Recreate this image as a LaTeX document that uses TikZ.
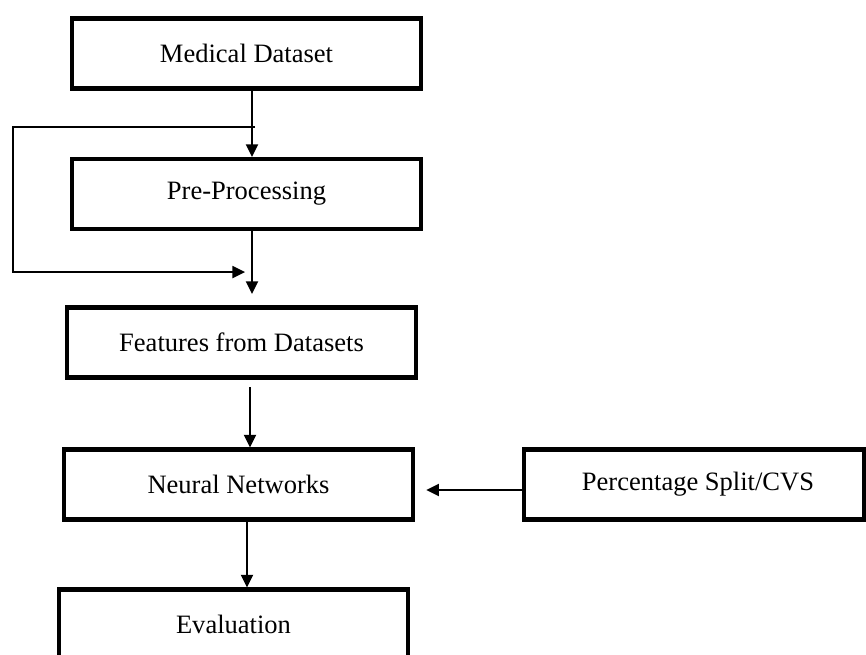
\documentclass[tikz,border=0pt]{standalone}
\usepackage{fontspec}
\setmainfont{Liberation Serif}
\usetikzlibrary{arrows.meta,calc}
\tikzset{
 stage/.style={draw,line width=3.1pt,minimum width=262pt,minimum height=52.5pt,inner sep=0,font=\fontsize{19.9}{24}\selectfont},
 sidestage/.style={stage,minimum width=255pt},
 flow/.style={line width=1.6pt,-{Triangle[length=9.5pt,width=9pt]}},
 loopline/.style={line width=1.6pt}
}
\begin{document}
\begin{tikzpicture}[x=0.75pt,y=-0.75pt]
\useasboundingbox (0,0) rectangle (866,655);
\clip (0,0) rectangle (866,655);
\node[stage] (med) at (246.5,53.5) {Medical Dataset};
\node[stage] (pre) at (246.5,194) {Pre-Processing};
\node[stage] (feat) at (241.5,342.5) {Features from Datasets};
\node[stage] (nn) at (238.5,484.5) {Neural Networks};
\node[sidestage] (pct) at (694,484.5) {\hspace*{6pt}Percentage Split/CVS};
\node[stage] (eval) at (233.5,624.5) {Evaluation};
\coordinate (split) at ($(med.south)+(8.5,36.5)$);
\coordinate (merge) at ($(pre.south)+(-1.5,41)$);
\draw[flow] ($(med.south)+(5.5,0)$) -- ($(pre.north)+(5.5,0)$);
\draw[flow] (split) -- ++(-242,0) |- (merge);
\draw[flow] ($(pre.south)+(5.5,0)$) -- ($(feat.north)+(10.5,-11.5)$);
\draw[flow] ($(feat.south)+(8.5,7.5)$) -- ($(nn.north)+(11.5,0)$);
\draw[flow] ($(nn.south)+(8.5,0)$) -- ($(eval.north)+(13.5,0)$);
\draw[flow] ($(pct.west)+(0,5.5)$) -- ($(nn.east)+(11,5.5)$);
\end{tikzpicture}
\end{document}
